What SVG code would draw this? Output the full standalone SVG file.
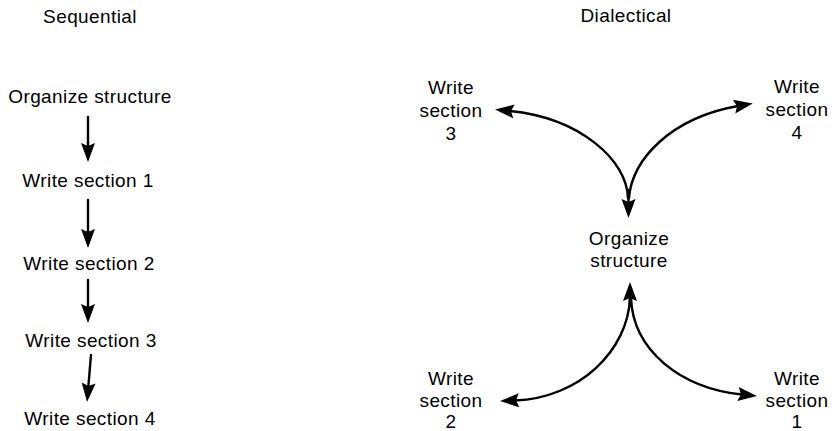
<svg xmlns="http://www.w3.org/2000/svg" width="838" height="431" viewBox="0 0 838 431">
<style>
text{font-family:"Liberation Sans",Arial,Helvetica,sans-serif;font-size:19px;fill:#000;letter-spacing:0.4px}
.c{text-anchor:middle}
.ln{fill:none;stroke:#000;stroke-width:2.4;stroke-linecap:round;marker-end:url(#ah)}
</style>
<defs>
<marker id="ah" markerUnits="userSpaceOnUse" markerWidth="22" markerHeight="16" viewBox="-20 -8 21 16" refX="-15" refY="0" orient="auto">
<path d="M0,0 L-19,-7 L-16,0 L-19,7 Z" fill="#000"/>
</marker>
</defs>
<rect width="838" height="431" fill="#fff"/>
<g id="title-sequential"><text class="c" x="90" y="23">Sequential</text></g>
<g id="title-dialectical"><text class="c" x="626" y="22">Dialectical</text></g>
<g id="seq-organize"><text class="c" x="90" y="103">Organize structure</text></g>
<g id="seq-s1"><text class="c" x="88" y="187">Write section 1</text></g>
<g id="seq-s2"><text class="c" x="89" y="270">Write section 2</text></g>
<g id="seq-s3"><text class="c" x="91" y="347">Write section 3</text></g>
<g id="seq-s4"><text class="c" x="90" y="425">Write section 4</text></g>
<g id="dia-organize"><text class="c" x="629" y="245">Organize</text><text class="c" x="629" y="267">structure</text></g>
<g id="dia-s3"><text class="c" x="451" y="94">Write</text><text class="c" x="451" y="117">section</text><text class="c" x="451" y="140">3</text></g>
<g id="dia-s4"><text class="c" x="797" y="93">Write</text><text class="c" x="797" y="116">section</text><text class="c" x="797" y="139">4</text></g>
<g id="dia-s2"><text class="c" x="451" y="385">Write</text><text class="c" x="451" y="407">section</text><text class="c" x="451" y="428">2</text></g>
<g id="dia-s1"><text class="c" x="797" y="385">Write</text><text class="c" x="797" y="407">section</text><text class="c" x="797" y="428">1</text></g>
<g id="connectors">
<path class="ln" d="M88,117 L88,147"/>
<path class="ln" d="M88,200 L88,233"/>
<path class="ln" d="M88,280 L88,308"/>
<path class="ln" d="M91,355 L88.3,387"/>
<path class="ln" d="M628,198 C627,160 580,118 510,111"/>
<path class="ln" d="M629,198 C632,160 670,118 738,106"/>
<path class="ln" d="M628.5,190 L628.5,203"/>
<path class="ln" d="M630,306 L630,297"/>
<path class="ln" d="M630,298 C628,350 580,398 515,400.5"/>
<path class="ln" d="M631,298 C633,350 680,388 742,394.5"/>
</g>
</svg>
